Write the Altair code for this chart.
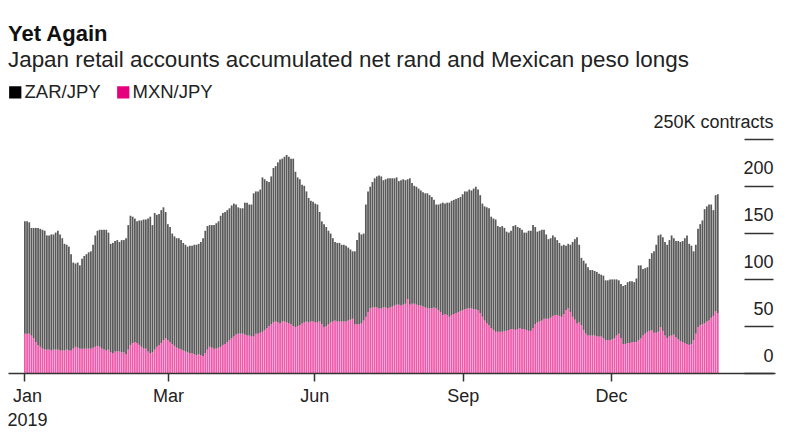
import json
import altair as alt
import pandas as pd

FONT = "Liberation Sans"

title_text = "Yet Again"
subtitle_text = "Japan retail accounts accumulated net rand and Mexican peso longs"
series_names = ["ZAR/JPY", "MXN/JPY"]
series_colors = ["#000000", "#e6007e"]

# Total stacked height (ZAR/JPY + MXN/JPY), thousand contracts, one value per bar
total = [
    162, 162, 161, 155, 155, 155, 155, 154, 153, 152,
    147, 147, 148, 148, 150, 152, 148, 144, 138, 137,
    135, 127, 118, 117, 118, 115, 122, 125, 127, 129,
    130, 137, 147, 152, 153, 153, 153, 153, 150, 138,
    139, 141, 142, 140, 142, 142, 144, 158, 168, 167,
    165, 162,
    163, 163, 164, 164, 165, 167, 158, 171, 169, 170,
    174, 177, 172, 159, 156, 149, 146, 144, 144, 142,
    139, 137, 135, 136, 136, 137, 137, 138, 140, 144,
    152, 157, 158, 158, 158, 160, 162, 168, 171, 172,
    174, 176, 179, 181, 180, 177, 176, 176, 182, 182,
    180, 180, 192,
    194, 194, 196, 209, 207, 205, 204, 210, 219, 221,
    225, 228, 229, 231, 233, 231, 229, 229, 215, 209,
    207, 201, 200, 194, 187, 184, 183, 181, 180, 172,
    162, 159, 156, 152, 149, 144, 140, 139, 139, 137,
    137, 136, 134, 132, 130, 130, 142, 150, 148, 149,
    180, 194, 199,
    204, 208, 210, 211, 210, 206, 207, 208, 208, 208,
    208, 209, 205, 206, 207, 206, 207, 208, 203, 200,
    199, 197, 195, 193, 192, 192, 190, 188, 185, 180,
    180, 181, 182, 181, 182, 182, 184, 185, 186, 187,
    188, 191, 194, 194, 196, 195, 197, 199, 196, 190,
    181, 178, 177,
    176, 167, 165, 164, 157, 156, 157, 155, 151, 150,
    152, 157, 158, 156, 155, 153, 150, 150, 152, 152,
    158, 156, 151, 152, 153, 153, 148, 143, 144, 147,
    145, 142, 139, 136, 137, 136, 138, 137, 140, 143,
    145, 137, 123, 120, 117, 113, 110, 110, 109, 108,
    106, 105, 104,
    99, 99, 100, 100, 100, 100, 99, 95, 93, 94,
    97, 98, 98, 97, 101, 115, 115, 111, 112, 113,
    122, 128, 130, 137, 147, 148, 145, 140, 137, 142,
    147, 144, 141, 141, 140, 141, 144, 147, 138, 136,
    130, 137, 154, 159, 163, 175, 178, 180, 180, 174,
    190, 191,
]

# MXN/JPY, thousand contracts, one value per bar
mxn = [
    42, 42, 42, 40, 37, 33, 30, 28, 26, 25,
    25, 25, 24, 25, 25, 25, 24, 24, 24, 25,
    24, 24, 26, 28, 27, 26, 26, 26, 26, 26,
    26, 27, 28, 29, 28, 26, 25, 24, 25, 22,
    21, 23, 23, 23, 22, 22, 20, 25, 30, 32,
    33, 32,
    30, 28, 26, 26, 23, 21, 22, 25, 28, 30,
    32, 35, 37, 35, 33, 31, 29, 27, 26, 25,
    24, 23, 22, 21, 21, 20, 19, 20, 19, 18,
    21, 25, 28, 27, 26, 26, 27, 28, 30, 31,
    33, 35, 37, 39, 41, 42, 42, 42, 41, 40,
    40, 39, 39,
    42, 42, 43, 44, 46, 48, 50, 52, 54, 55,
    54, 53, 55, 55, 54, 53, 52, 50, 49, 50,
    51, 53, 54, 55, 54, 55, 55, 54, 54, 55,
    52, 49, 50, 52, 54, 55, 56, 55, 55, 55,
    55, 55, 56, 57, 58, 52, 52, 52, 53, 56,
    60, 65, 69,
    70, 70, 70, 69, 69, 70, 70, 69, 70, 71,
    72, 73, 73, 72, 73, 74, 79, 73, 74, 74,
    73, 72, 72, 71, 70, 69, 69, 69, 70, 69,
    67, 65, 62, 63, 62, 60, 62, 63, 64, 65,
    66, 67, 68, 69, 69, 69, 68, 68, 67, 64,
    60, 56, 53,
    51, 48, 46, 44, 44, 44, 44, 45, 45, 46,
    47, 47, 46, 47, 48, 47, 47, 46, 45, 45,
    48, 52, 54, 55, 56, 58, 58, 58, 59, 61,
    62, 62, 61, 60, 63, 67, 69, 65, 60, 57,
    53, 54, 51, 46, 42, 40, 40, 40, 40, 39,
    39, 39, 37,
    35, 35, 35, 36, 37, 40, 42, 37, 31, 31,
    32, 32, 33, 33, 33, 35, 37, 40, 42, 44,
    45, 46, 43, 43, 44, 49, 45, 40, 37, 39,
    40, 41, 38, 36, 34, 33, 32, 31, 30, 31,
    35, 42, 49, 51, 52, 53, 55, 56, 59, 61,
    66, 64,
]

# x-axis ticks (bar index positions) and their labels
tick_pos = [0, 65.45, 132.0, 199.5, 266.8]
tick_labels = [["Jan", "2019"], "Mar", "Jun", "Sep", "Dec"]
y_ticks = [0, 50, 100, 150, 200, 250]

rows = []
for i, (t, m) in enumerate(zip(total, mxn)):
    # MXN/JPY sits at the bottom of each bar, ZAR/JPY is stacked on top of it
    rows.append({"i": i, "i2": i + 0.8, "series": "MXN/JPY", "lo": 0, "hi": m})
    rows.append({"i": i, "i2": i + 0.8, "series": "ZAR/JPY", "lo": m, "hi": t})
df = pd.DataFrame(rows)

x_expr = " : ".join(
    f"datum.value == {v} ? {json.dumps(lab)}" for v, lab in zip(tick_pos, tick_labels)
) + " : ''"

chart = alt.Chart(df).mark_bar(opacity=0.65).encode(
    x=alt.X(
        "i:Q",
        scale=alt.Scale(domain=[-7.27, 341.4], nice=False, zero=False),
        axis=alt.Axis(
            values=tick_pos, labelExpr=x_expr, title=None, grid=False,
            domainColor="#333333", domainWidth=1.5, tickColor="#333333",
            tickWidth=1.5, tickSize=8, labelFontSize=18, labelFont=FONT,
            labelColor="#222222", labelPadding=6, labelLineHeight=24,
            labelFlush=False, labelAlign="center", labelBaseline="top",
            labelOffset={"condition": {"test": "datum.value == 0", "value": 3}, "value": 0},
            zindex=1,
        ),
    ),
    x2="i2:Q",
    y=alt.Y(
        "lo:Q",
        scale=alt.Scale(domain=[0, 250], nice=False),
        axis=alt.Axis(
            orient="right", offset=-31, values=y_ticks, title=None, grid=False,
            domain=False, tickSize=29, tickWidth=1.5, tickColor="#333333",
            labelAlign="right", labelPadding=0, labelBaseline="alphabetic",
            labelOffset=-12, labelFontSize=18, labelFont=FONT,
            labelColor="#222222",
            labelExpr="datum.value == 250 ? '250K contracts' : datum.label",
        ),
    ),
    y2="hi:Q",
    color=alt.Color(
        "series:N",
        scale=alt.Scale(domain=series_names, range=series_colors),
        legend=alt.Legend(
            orient="none", legendX=-2, legendY=-56, direction="horizontal",
            title=None, symbolType="square", symbolSize=150, symbolOpacity=1,
            symbolStrokeWidth=0, labelFontSize=18.5, labelFont=FONT,
            labelColor="#222222", columnPadding=13, labelOffset=0, padding=0,
        ),
    ),
).properties(
    width=767,
    height=234,
    autosize=alt.AutoSizeParams(type="none"),
    padding={"left": 0, "top": 131, "right": 5, "bottom": 57},
    title=alt.TitleParams(
        text=title_text, subtitle=subtitle_text, anchor="start", font=FONT,
        fontSize=22, fontWeight="bold", color="#111111",
        subtitleFont=FONT, subtitleFontSize=22.4, subtitleColor="#222222",
        subtitlePadding=3, offset=11, dx=2,
    ),
).configure_view(stroke=None)

chart.save("out.html", embed_options={"renderer": "svg", "actions": False})
